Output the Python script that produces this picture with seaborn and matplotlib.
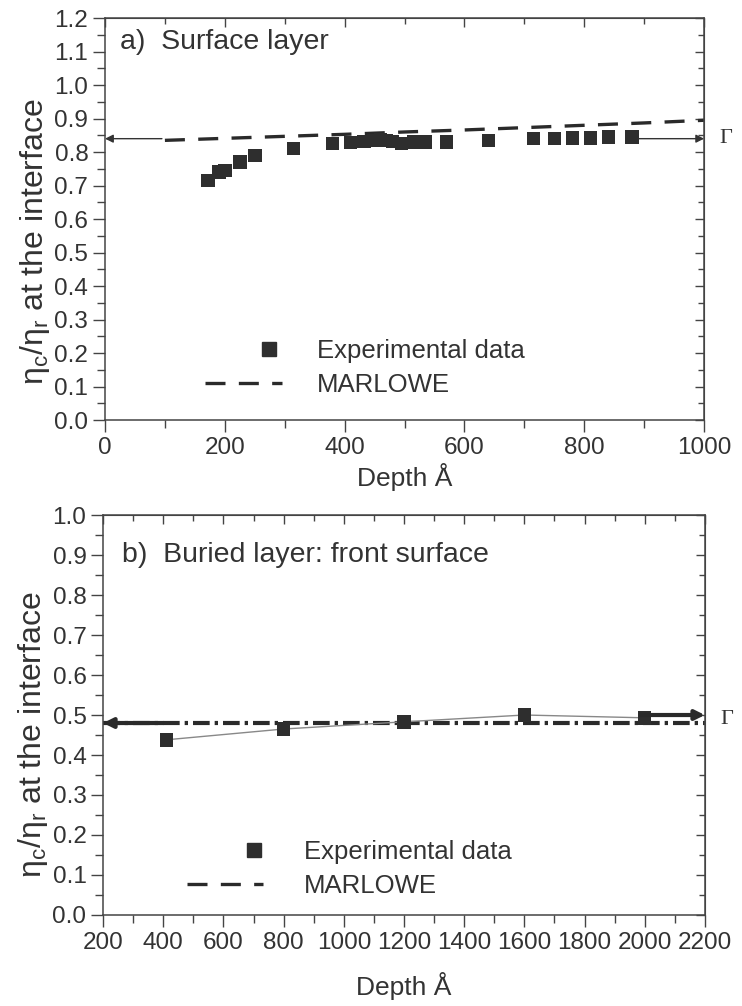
import numpy as np
import pandas as pd
import seaborn as sns
import matplotlib
matplotlib.use("Agg")
import matplotlib.pyplot as plt
from matplotlib.lines import Line2D
from matplotlib.legend_handler import HandlerLine2D
from matplotlib.ticker import MultipleLocator, FormatStrFormatter

# ---------------- data ----------------
# panel a: surface layer
a_depth = [172, 190, 200, 225, 250, 315, 380, 410, 432, 448, 460, 470, 480,
           495, 515, 535, 570, 640, 715, 750, 780, 810, 840, 880]
a_ratio = [0.715, 0.740, 0.745, 0.770, 0.790, 0.810, 0.825, 0.828, 0.832,
           0.835, 0.836, 0.835, 0.832, 0.826, 0.830, 0.830, 0.830, 0.835,
           0.840, 0.840, 0.842, 0.842, 0.845, 0.845]
a_marlowe_depth = [100, 200, 300, 400, 500, 600, 700, 800, 900, 1000]
a_marlowe = [0.835, 0.841, 0.847, 0.853, 0.860, 0.866, 0.873, 0.880, 0.887, 0.895]
a_gamma = 0.84

# panel b: buried layer, front surface
b_depth = [410, 800, 1200, 1600, 2000]
b_ratio = [0.438, 0.465, 0.483, 0.500, 0.493]
b_marlowe_depth = [200, 2200]
b_marlowe = [0.48, 0.48]
b_gamma_left = 0.48
b_gamma_right = 0.50

a_title = "a)  Surface layer"
b_title = "b)  Buried layer: front surface"
legend_labels = ["Experimental data", "MARLOWE"]
xlabel = "Depth Å"
ylabel = r"$\eta_c/\eta_r$ at the interface"

# ---------------- style ----------------
sns.set_style("ticks")
plt.rcParams["font.family"] = ["Liberation Sans", "DejaVu Sans"]
plt.rcParams["mathtext.default"] = "regular"
TXT = "#333333"
MK = "#2e2e2e"
plt.rcParams.update({
    "text.color": TXT, "axes.labelcolor": TXT,
    "xtick.color": "#444444", "ytick.color": "#444444",
    "xtick.labelcolor": TXT, "ytick.labelcolor": TXT,
    "axes.edgecolor": "#444444",
})

fig = plt.figure(figsize=(7.42, 10.06), dpi=100)
axA = fig.add_axes([0.1415, 0.5825, 0.8075, 0.3995])
axB = fig.add_axes([0.139, 0.0905, 0.811, 0.3975])


class MarkerAt(HandlerLine2D):
    """Single legend marker placed at a fraction of the handle width."""
    def __init__(self, frac, **kw):
        super().__init__(**kw)
        self.frac = frac

    def get_xdata(self, legend, xdescent, ydescent, width, height, fontsize):
        x0 = -xdescent + (2 * self.frac - 1) * width
        x1 = -xdescent + width
        return [x0, x1], [0.5 * (x0 + x1)]


def style_axis(ax, xmaj, xmin, ymaj, ymin, xl_y, yl_y):
    ax.xaxis.set_major_locator(MultipleLocator(xmaj))
    ax.xaxis.set_minor_locator(MultipleLocator(xmin))
    ax.yaxis.set_major_locator(MultipleLocator(ymaj))
    ax.yaxis.set_minor_locator(MultipleLocator(ymin))
    ax.tick_params(which="both", direction="out", top=False, right=False,
                   labelsize=17.5, width=1.0, pad=3.5)
    ax.tick_params(which="major", length=8.5)
    ax.tick_params(which="minor", length=5.5)
    sec_x = ax.secondary_xaxis("top")
    sec_x.xaxis.set_major_locator(MultipleLocator(xmaj))
    sec_x.xaxis.set_minor_locator(MultipleLocator(xmin))
    sec_x.tick_params(which="both", direction="in", labeltop=False, width=1.0,
                      color="#444444")
    sec_x.tick_params(which="major", length=6.5)
    sec_x.tick_params(which="minor", length=4)
    sec_y = ax.secondary_yaxis("right")
    sec_y.yaxis.set_major_locator(MultipleLocator(ymaj))
    sec_y.yaxis.set_minor_locator(MultipleLocator(ymin))
    sec_y.tick_params(which="both", direction="in", labelright=False, width=1.0,
                      color="#444444")
    sec_y.tick_params(which="major", length=6.5)
    sec_y.tick_params(which="minor", length=4)
    for s in ax.spines.values():
        s.set_linewidth(1.1)
    ax.set_xlabel(xlabel, fontsize=19)
    ax.set_ylabel(ylabel, fontsize=23)
    ax.xaxis.set_label_coords(0.5, xl_y)
    ax.yaxis.set_label_coords(-0.088, yl_y)
    ax.yaxis.set_major_formatter(FormatStrFormatter("%.1f"))


# ---------------- panel a ----------------
dfA = pd.DataFrame({"depth": a_depth, "ratio": a_ratio})
dfAm = pd.DataFrame({"depth": a_marlowe_depth, "ratio": a_marlowe})
sns.lineplot(data=dfAm, x="depth", y="ratio", ax=axA, color="#2a2a2a",
             linewidth=2.4, linestyle=(0, (6, 4)), zorder=2)
sns.scatterplot(data=dfA, x="depth", y="ratio", ax=axA, marker="s", s=95,
                color=MK, edgecolor="none", linewidth=0, zorder=3)
axA.set_xlim(0, 1000)
axA.set_ylim(0, 1.2)
style_axis(axA, 200, 100, 0.1, 0.05, -0.108, 0.443)
axA.annotate("", xy=(0, a_gamma), xytext=(95, a_gamma),
             arrowprops=dict(arrowstyle="-|>", color="#333333", lw=1.0,
                             mutation_scale=12, shrinkA=0, shrinkB=0))
axA.annotate("", xy=(1000, a_gamma), xytext=(890, a_gamma),
             arrowprops=dict(arrowstyle="-|>", color="#333333", lw=1.0,
                             mutation_scale=12, shrinkA=0, shrinkB=0))
axA.text(1.025, a_gamma, "Γ", transform=axA.get_yaxis_transform(),
         fontsize=16, va="center", ha="left", family="Liberation Serif")
axA.text(0.025, 0.94, a_title, transform=axA.transAxes, fontsize=20.5,
         va="center", ha="left")

hA = [Line2D([], [], marker="s", linestyle="none", color=MK, markersize=9.5),
      Line2D([], [], color="#2a2a2a", linewidth=2.4, linestyle=(0, (6, 4)))]
axA.legend(hA, legend_labels, loc="center left", bbox_to_anchor=(0.128, 0.13),
           frameon=False, fontsize=18.5, handlelength=3.0, handletextpad=1.36,
           labelspacing=0.4, labelcolor=TXT,
           handler_map={hA[0]: MarkerAt(0.83)})

# ---------------- panel b ----------------
dfB = pd.DataFrame({"depth": b_depth, "ratio": b_ratio})
dfBm = pd.DataFrame({"depth": b_marlowe_depth, "ratio": b_marlowe})
sns.lineplot(data=dfBm, x="depth", y="ratio", ax=axB, color="#2a2a2a",
             linewidth=3.0, linestyle=(0, (4, 1.2, 0.8, 1.2)), zorder=2)
sns.lineplot(data=dfB, x="depth", y="ratio", ax=axB, color="#888888",
             linewidth=1.0, zorder=2)
sns.scatterplot(data=dfB, x="depth", y="ratio", ax=axB, marker="s", s=95,
                color=MK, edgecolor="none", linewidth=0, zorder=3)
axB.set_xlim(200, 2200)
axB.set_ylim(0, 1.0)
style_axis(axB, 200, 100, 0.1, 0.05, -0.143, 0.45)
axB.annotate("", xy=(200, b_gamma_left), xytext=(400, b_gamma_left),
             arrowprops=dict(arrowstyle="-|>", color="#2a2a2a", lw=3.0,
                             mutation_scale=14, shrinkA=0, shrinkB=0))
axB.annotate("", xy=(2200, b_gamma_right), xytext=(1985, b_gamma_right),
             arrowprops=dict(arrowstyle="-|>", color="#2a2a2a", lw=3.0,
                             mutation_scale=14, shrinkA=0, shrinkB=0))
axB.text(1.025, 0.488, "Γ", transform=axB.get_yaxis_transform(),
         fontsize=16, va="center", ha="left", family="Liberation Serif")
axB.text(0.032, 0.90, b_title, transform=axB.transAxes, fontsize=20.5,
         va="center", ha="left")

hB = [Line2D([], [], marker="s", linestyle="none", color=MK, markersize=9.5),
      Line2D([], [], color="#2a2a2a", linewidth=2.4, linestyle=(0, (6, 4)))]
axB.legend(hB, legend_labels, loc="center left", bbox_to_anchor=(0.101, 0.115),
           frameon=False, fontsize=18.5, handlelength=2.95, handletextpad=1.6,
           labelspacing=0.4, labelcolor=TXT,
           handler_map={hB[0]: MarkerAt(0.88)})

fig.savefig("out.png", dpi=100)
